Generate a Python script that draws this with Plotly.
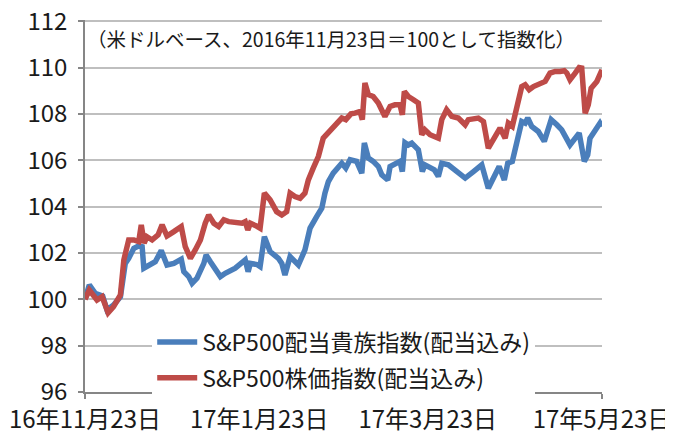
import pandas as pd
import plotly.graph_objects as go

# Data (days elapsed since 2016-11-23, index values with 2016-11-23 = 100)
start_date = "2016-11-23"

blue_name = "S&P500配当貴族指数(配当込み)"
blue_days = [0, 1.5, 3.6, 5.0, 6.2, 7.7, 10.0, 12.4, 14.1, 15.3, 17.1, 18.8, 20.0, 20.6, 22.3,
             24.6, 26.7, 28.7, 31.1, 33.7, 34.6, 36.3, 37.5, 39.2, 41.6, 42.4, 43.9, 45.6, 47.4,
             49.1, 52.6, 56.1, 57.1, 57.9, 60.2, 61.3, 62.8, 64.8, 67.7, 68.9, 70.0, 71.8, 74.7,
             77.0, 78.8, 81.1, 82.9, 84.0, 85.2, 86.9, 89.9, 91.3, 92.8, 95.1, 96.9, 97.8, 99.2,
             100.9, 102.7, 103.9, 106.0, 106.8, 108.5, 110.3, 111.1, 112.0, 113.2, 114.4, 116.7,
             118.1, 119.0, 120.8, 122.3, 123.7, 124.9, 127.2, 130.1, 133.1, 136.0, 138.9, 141.2,
             143.0, 145.0, 146.8, 148.0, 149.6, 151.2, 152.9, 154.1, 155.0, 156.4, 158.7, 160.8,
             163.2, 165.2, 166.9, 169.8, 171.6, 173.0, 174.8, 176.0, 176.8, 178.6, 180.3, 181.0]
blue_values = [100.0, 100.62, 100.26, 100.19, 100.14, 99.54, 99.75, 100.11, 101.55, 101.77, 102.2,
               102.3, 102.27, 101.34, 101.48, 101.62, 102.1, 101.48, 101.55, 101.73, 101.19, 100.98,
               100.69, 100.91, 101.55, 101.91, 101.62, 101.27, 100.98, 101.12, 101.34, 101.7, 101.19,
               101.55, 101.5, 101.41, 102.7, 102.06, 101.77, 101.55, 101.05, 101.84, 101.48, 102.13,
               103.07, 103.57, 103.93, 104.58, 105.08, 105.44, 105.87, 105.66, 106.02, 105.95, 105.44,
               106.74, 106.09, 105.95, 105.73, 105.37, 105.15, 105.73, 105.87, 105.95, 105.51, 106.76,
               106.66, 106.74, 106.45, 105.51, 105.8, 105.66, 105.59, 105.3, 105.87, 105.8, 105.51,
               105.23, 105.51, 105.8, 104.79, 105.23, 105.73, 105.15, 105.87, 105.95, 106.81, 107.67,
               107.6, 107.82, 107.46, 107.24, 106.81, 107.75, 107.53, 107.31, 106.66, 106.95, 107.17,
               105.95, 106.23, 106.95, 107.24, 107.6, 107.46]

red_name = "S&P500株価指数(配当込み)"
red_days = [0, 1.5, 4.2, 6.0, 8.1, 10.0, 12.4, 13.6, 15.3, 17.1, 18.8, 19.7, 20.7, 21.7, 23.5,
            25.6, 27.0, 28.7, 31.1, 33.7, 35.1, 36.9, 38.6, 40.4, 42.1, 43.3, 45.1, 46.8, 48.6,
            50.3, 55.0, 56.1, 57.0, 57.9, 60.2, 61.3, 62.8, 64.8, 67.1, 68.9, 70.6, 71.8, 73.5,
            75.3, 77.0, 78.2, 79.9, 81.7, 83.4, 84.6, 86.4, 88.1, 89.9, 91.3, 93.1, 94.5, 96.3,
            97.1, 98.0, 99.2, 100.9, 102.7, 105.0, 106.8, 108.5, 110.3, 111.1, 111.8, 113.2,
            115.0, 116.7, 117.9, 119.0, 120.8, 123.7, 124.9, 126.6, 128.4, 130.7, 133.1, 134.2,
            137.7, 139.5, 141.2, 143.0, 145.3, 147.1, 148.2, 149.6, 151.2, 152.9, 154.1, 155.5,
            157.0, 159.3, 161.1, 162.8, 164.6, 166.3, 167.8, 168.7, 169.8, 171.6, 173.0, 173.9,
            175.1, 176.2, 177.2, 179.2, 181.0]
red_values = [100.0, 100.4, 99.97, 100.11, 99.42, 99.68, 100.19, 101.7, 102.56, 102.56, 102.49,
              103.21, 102.42, 102.7, 102.56, 102.78, 103.21, 102.73, 102.92, 103.14, 102.27, 101.77,
              102.13, 102.56, 103.28, 103.64, 103.28, 103.14, 103.43, 103.35, 103.28, 103.35, 102.99,
              103.28, 103.15, 103.07, 104.58, 104.29, 103.78, 103.64, 103.78, 104.58, 104.43, 104.36,
              104.58, 105.15, 105.66, 106.16, 106.95, 107.1, 107.31, 107.6, 107.82, 107.75, 108.0,
              108.03, 108.1, 107.75, 109.33, 108.83, 108.75, 108.47, 107.89, 108.32, 108.39, 108.39,
              107.96, 108.97, 108.75, 108.61, 108.47, 107.1, 107.31, 107.1, 106.95, 107.75, 108.18,
              107.89, 107.82, 107.53, 107.75, 107.82, 107.67, 106.52, 106.88, 107.39, 106.95, 107.6,
              107.46, 108.32, 109.18, 109.26, 109.04, 109.18, 109.33, 109.4, 109.76, 109.83, 109.83,
              109.86, 109.76, 109.47, 109.76, 110.0, 109.98, 108.03, 108.39, 109.11, 109.4, 109.9]

tick_dates = ["2016-11-23", "2017-01-23", "2017-03-23", "2017-05-23"]
tick_labels = ["16年11月23日", "17年1月23日", "17年3月23日", "17年5月23日"]
minor_tick_dates = ["2016-12-23", "2017-02-23", "2017-04-23"]

note_text = "（米ドルベース、2016年11月23日＝100として指数化）"

base = pd.Timestamp(start_date)
blue_x = base + pd.to_timedelta(blue_days, unit="D")
red_x = base + pd.to_timedelta(red_days, unit="D")

FONT = "Noto Sans CJK JP"
GRID = "#BFBFBF"
AXIS = "#868686"
TXT = "#1a1a1a"

fig = go.Figure()
fig.add_trace(go.Scatter(x=blue_x, y=blue_values, mode="lines", name=blue_name,
                         line=dict(color="#4A7EBB", width=5.5), legendgroup="a"))
fig.add_trace(go.Scatter(x=red_x, y=red_values, mode="lines", name=red_name,
                         line=dict(color="#BE4B48", width=5.5), legendgroup="b"))

# the page body adds an 8px offset, margins compensate for it
fig.update_layout(
    width=673, height=432,
    margin=dict(l=77, r=79, t=12, b=48, autoexpand=False),
    paper_bgcolor="white", plot_bgcolor="white",
    font=dict(family=FONT, size=24, color=TXT),
    showlegend=True,
    legend=dict(x=0.13, y=-0.02, xanchor="left", yanchor="bottom",
                bgcolor="white", borderwidth=0, tracegroupgap=3,
                font=dict(family=FONT, size=23, color=TXT),
                itemwidth=40),
    annotations=[dict(text=note_text, x=0.0, y=0.95, xref="paper", yref="paper",
                      xanchor="left", yanchor="middle", showarrow=False,
                      font=dict(family=FONT, size=19.5, color=TXT))],
)

fig.update_xaxes(
    type="date", automargin=False, ticklabeloverflow="allow",
    range=[tick_dates[0], tick_dates[-1]],
    tickmode="array", tickvals=tick_dates, ticktext=tick_labels,
    ticks="outside", ticklen=5, tickcolor=AXIS, tickwidth=1.5,
    showline=True, linecolor=AXIS, linewidth=1.5,
    showgrid=False, zeroline=False,
    minor=dict(tickmode="array", tickvals=minor_tick_dates, ticks="outside",
               ticklen=5, tickcolor=AXIS, tickwidth=1.5, showgrid=False),
    tickfont=dict(family=FONT, size=24, color=TXT),
)
fig.update_yaxes(
    range=[96, 112.05], dtick=2, tick0=96, automargin=False, ticklabeloverflow="allow",
    ticks="outside", ticklen=5, tickcolor=AXIS, tickwidth=1.5,
    ticklabelstandoff=6,
    showline=True, linecolor=AXIS, linewidth=1.5,
    showgrid=True, gridcolor=GRID, gridwidth=1.5, zeroline=False,
    tickfont=dict(family=FONT, size=24, color=TXT),
)

fig.write_html("out.html")
